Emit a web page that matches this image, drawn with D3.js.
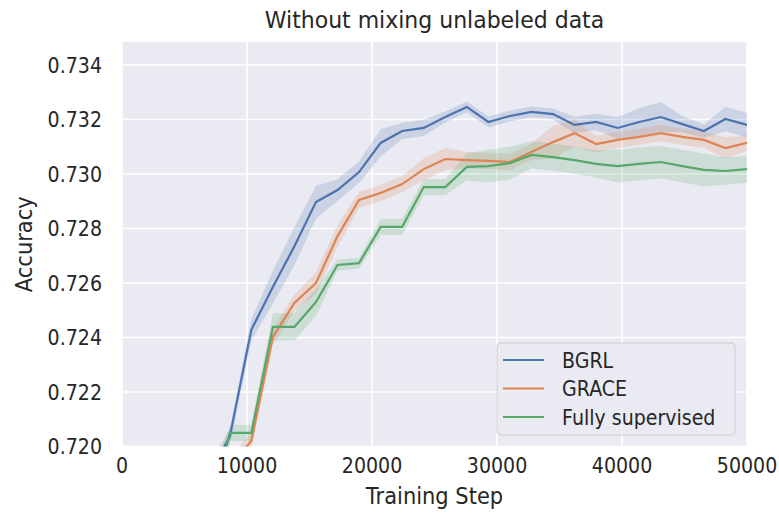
<!DOCTYPE html>
<html>
<head>
<meta charset="utf-8">
<script src="https://cdn.jsdelivr.net/npm/d3@7"></script>
<style>
  body { margin: 0; background: #fff; }
  text { font-family: "DejaVu Sans", sans-serif; fill: #262626; }
</style>
</head>
<body>
<svg width="779" height="513"></svg>
<script>
// logged training steps
const steps = [6897, 8621, 10345, 12069, 13793, 15517, 17241, 18966, 20690, 22414,
  24138, 25862, 27586, 29310, 31034, 32759, 34483, 36207, 37931, 39655,
  41379, 43103, 44828, 46552, 48276, 50000]

const bgrl = [0.7190, 0.72035, 0.72428, 0.72585, 0.72735, 0.72897, 0.72941, 0.73007, 0.73114, 0.73158,
  0.73169, 0.73209, 0.73246, 0.73191, 0.73213, 0.73228, 0.73220, 0.73180, 0.73191, 0.73169,
  0.73191, 0.73209, 0.73183, 0.73158, 0.73202, 0.73180]
const bgrlErr = [0.0003, 0.0003, 0.0004, 0.0006, 0.0007, 0.0006, 0.0004, 0.0004, 0.0005, 0.0003,
  0.0003, 0.0002, 0.0002, 0.0002, 0.0002, 0.0002, 0.0002, 0.0003, 0.0003, 0.0004,
  0.0005, 0.00055, 0.0003, 0.00025, 0.00045, 0.00045]

const grace = [0.7180, 0.7193, 0.72020, 0.72402, 0.72527, 0.72600, 0.72772, 0.72905, 0.72930, 0.72963,
  0.73018, 0.73055, 0.73051, 0.73048, 0.73044, 0.73081, 0.73117, 0.73150, 0.73110, 0.73125,
  0.73136, 0.73150, 0.73136, 0.73125, 0.73095, 0.73114]
const graceErr = [0.0003, 0.0003, 0.0003, 0.0003, 0.0003, 0.0004, 0.0004, 0.0003, 0.0003, 0.0003,
  0.0004, 0.0004, 0.0003, 0.0003, 0.0003, 0.0003, 0.0006, 0.0005, 0.0003, 0.0003,
  0.0003, 0.0003, 0.0003, 0.0003, 0.0004, 0.0003]

const sup = [0.7173, 0.72050, 0.72050, 0.72439, 0.72439, 0.72530, 0.72666, 0.72673, 0.72806, 0.72806,
  0.72952, 0.72952, 0.73026, 0.73029, 0.73040, 0.73070, 0.73062, 0.73051, 0.73037, 0.73029,
  0.73037, 0.73044, 0.73029, 0.73015, 0.73011, 0.73018]
const supErr = [0.0003, 0.0003, 0.0003, 0.0005, 0.0005, 0.0005, 0.0002, 0.0002, 0.0003, 0.0003,
  0.0003, 0.0003, 0.0005, 0.0006, 0.0006, 0.0005, 0.0005, 0.0005, 0.0005, 0.0006,
  0.0006, 0.0006, 0.0006, 0.0006, 0.0005, 0.0005]

const xTicks = [0, 10000, 20000, 30000, 40000, 50000]
const yTicks = [0.720, 0.722, 0.724, 0.726, 0.728, 0.730, 0.732, 0.734]

const series = [
  {name: 'BGRL', vals: bgrl, err: bgrlErr, color: '#4c72b0'},
  {name: 'GRACE', vals: grace, err: graceErr, color: '#dd8452'},
  {name: 'Fully supervised', vals: sup, err: supErr, color: '#55a868'}
]

const svg = d3.select('svg')
const pLeft = 122, pRight = 747, pTop = 42, pBottom = 446.5
const sy = 1.08  // text in the reference is a bit taller than wide

const x = d3.scaleLinear().domain([0, 50000]).range([pLeft, pRight])
const y = d3.scaleLinear().domain([0.720, 0.734]).range([pBottom, 65])

function label(g, tx, ty, str, size, anchor, rot) {
  return g.append('text')
    .attr('transform', 'translate(' + tx + ',' + ty + ')' + (rot ? ' rotate(' + rot + ')' : '') + ' scale(1,' + sy + ')')
    .attr('text-anchor', anchor || 'start')
    .style('font-size', size + 'px')
    .text(str)
}

svg.append('defs').append('clipPath').attr('id', 'plot')
  .append('rect').attr('x', pLeft).attr('y', pTop).attr('width', pRight - pLeft).attr('height', pBottom - pTop)

svg.append('rect')
  .attr('x', pLeft).attr('y', pTop)
  .attr('width', pRight - pLeft).attr('height', pBottom - pTop)
  .style('fill', '#eaeaf2')

// grid
const grid = svg.append('g')
xTicks.forEach(function (t) {
  grid.append('line')
    .attr('x1', x(t)).attr('x2', x(t)).attr('y1', pTop).attr('y2', pBottom)
    .style('stroke', '#fff').style('stroke-width', 1.6)
})
yTicks.forEach(function (t) {
  grid.append('line')
    .attr('x1', pLeft).attr('x2', pRight).attr('y1', y(t)).attr('y2', y(t))
    .style('stroke', '#fff').style('stroke-width', 1.6)
})

const vis = svg.append('g').attr('clip-path', 'url(#plot)')

const area = d3.area()
  .x((d, i) => x(steps[i]))
  .y0(d => y(d[0] - d[1]))
  .y1(d => y(d[0] + d[1]))
const line = d3.line()
  .x((d, i) => x(steps[i]))
  .y(d => y(d))

series.forEach(function (s) {
  vis.append('path')
    .datum(s.vals.map((v, i) => [v, s.err[i]]))
    .attr('d', area)
    .style('fill', s.color)
    .style('opacity', 0.2)
})
series.forEach(function (s) {
  vis.append('path')
    .datum(s.vals)
    .attr('d', line)
    .style('fill', 'none')
    .style('stroke', s.color)
    .style('stroke-width', 2.2)
})

// tick labels
xTicks.forEach(function (t) {
  label(svg, x(t), 473, t, 19, 'middle')
})
yTicks.forEach(function (t) {
  label(svg, 102, y(t) + 7.5, d3.format('.3f')(t), 19, 'end')
})

label(svg, (pLeft + pRight) / 2, 504, 'Training Step', 21, 'middle')
label(svg, 32, (pTop + pBottom) / 2, 'Accuracy', 21, 'middle', -90)
label(svg, (pLeft + pRight) / 2, 28, 'Without mixing unlabeled data', 22, 'middle')

// legend
const lg = svg.append('g').attr('transform', 'translate(497,343)')
lg.append('rect')
  .attr('width', 238).attr('height', 92).attr('rx', 4)
  .style('fill', '#eaeaf2').style('fill-opacity', 0.8)
  .style('stroke', '#cccccc')
series.forEach(function (s, i) {
  const yy = 17 + i * 28.5
  lg.append('line')
    .attr('x1', 6).attr('x2', 47).attr('y1', yy).attr('y2', yy)
    .style('stroke', s.color).style('stroke-width', 2.2)
  label(lg, 65, yy + 7.5, s.name, 19)
})
</script>
</body>
</html>
